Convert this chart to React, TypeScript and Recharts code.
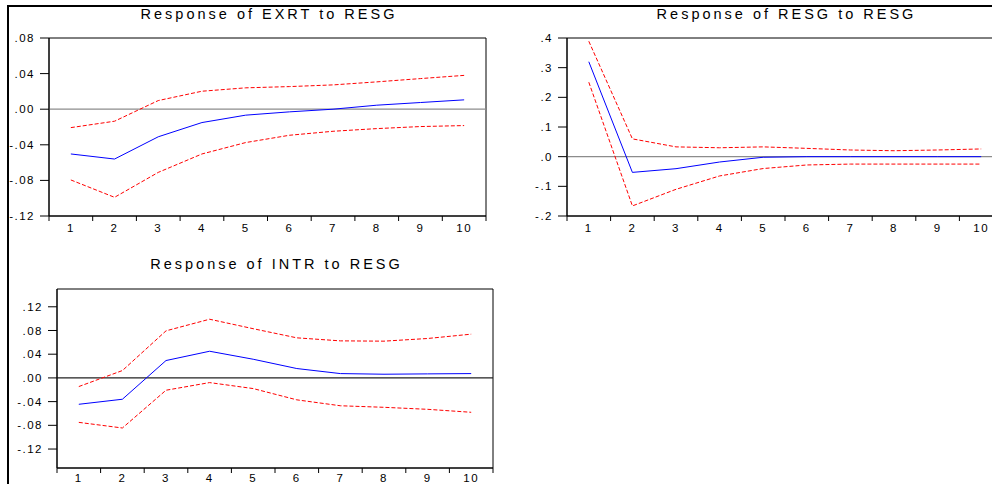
import React from "react";
import {
  LineChart,
  Line,
  XAxis,
  YAxis,
  ReferenceLine,
  ReferenceArea,
} from "recharts";

const periods = [1, 2, 3, 4, 5, 6, 7, 8, 9, 10];

const exrtResp = [-0.0503, -0.056, -0.031, -0.015, -0.0067, -0.003, 0.0, 0.0045, 0.0075, 0.0105];
const exrtUpper = [-0.0207, -0.0135, 0.0097, 0.0202, 0.024, 0.0254, 0.0273, 0.0307, 0.0344, 0.038];
const exrtLower = [-0.0795, -0.099, -0.071, -0.0503, -0.0375, -0.0293, -0.0248, -0.0218, -0.0195, -0.0184];

const resgResp = [0.32, -0.053, -0.0405, -0.018, -0.002, 0.0, 0.0, 0.0, 0.0, 0.0];
const resgUpper = [0.389, 0.06, 0.033, 0.03, 0.033, 0.028, 0.0225, 0.02, 0.0225, 0.026];
const resgLower = [0.251, -0.166, -0.11, -0.065, -0.04, -0.028, -0.025, -0.025, -0.025, -0.025];

const intrResp = [-0.0445, -0.036, 0.0293, 0.045, 0.0315, 0.0158, 0.0073, 0.0062, 0.0068, 0.0073];
const intrUpper = [-0.0146, 0.0124, 0.0794, 0.099, 0.083, 0.0676, 0.0625, 0.062, 0.0665, 0.0738];
const intrLower = [-0.075, -0.0845, -0.0208, -0.0079, -0.018, -0.037, -0.047, -0.0496, -0.053, -0.058];

const ticks2 = [-0.12, -0.08, -0.04, 0, 0.04, 0.08];
const ticks3 = [-0.12, -0.08, -0.04, 0, 0.04, 0.08, 0.12];
const ticksResg = [-0.2, -0.1, 0, 0.1, 0.2, 0.3, 0.4];

const FONT = '"Liberation Sans", Arial, sans-serif';

// label at each period, tick mark between periods (band edges)
const edges = [periods[0] - 0.5, ...periods.map((p) => p + 0.5)];
const xTicks = [...edges, ...periods].sort((a, b) => a - b);

const fmt = (digits: number) => (v: number) =>
  v.toFixed(digits).replace("0.", ".");

function PeriodTick(props: any) {
  const { x, y, payload, labelDy } = props;
  const v = payload.value;
  if (Number.isInteger(v)) {
    return (
      <text
        x={x}
        y={y + labelDy}
        textAnchor="middle"
        fontSize={11.5}
        fontFamily={FONT}
        letterSpacing={1.5}
        fill="#000"
      >
        {v}
      </text>
    );
  }
  return <line x1={x} x2={x} y1={y} y2={y + 5} stroke="#000" />;
}

function Panel({
  title,
  left,
  top,
  width,
  margin,
  resp,
  upper,
  lower,
  domain,
  ticks,
  digits,
  zeroColor,
  labelDy,
}: {
  title: string;
  left: number;
  top: number;
  width: number;
  margin: { top: number; right: number; left: number; bottom: number };
  resp: number[];
  upper: number[];
  lower: number[];
  domain: [number, number];
  ticks: number[];
  digits: number;
  zeroColor: string;
  labelDy: number;
}) {
  const data = periods.map((p, i) => ({
    period: p,
    resp: resp[i],
    upper: upper[i],
    lower: lower[i],
  }));
  const plotLeft = margin.left + 40;
  const plotWidth = width - margin.right - plotLeft;

  return (
    <div style={{ position: "absolute", left, top, width, height: 240 }}>
      <div
        style={{
          position: "absolute",
          left: plotLeft,
          width: plotWidth,
          top: 6.3,
          textAlign: "center",
          fontFamily: FONT,
          fontSize: 14.5,
          lineHeight: "16px",
          letterSpacing: 3,
          paddingLeft: 3,
          boxSizing: "border-box",
          whiteSpace: "nowrap",
          color: "#000",
        }}
      >
        {title}
      </div>
      <LineChart width={width} height={240} data={data} margin={margin}>
        <XAxis
          dataKey="period"
          type="number"
          domain={[edges[0], edges[edges.length - 1]]}
          ticks={xTicks}
          interval={0}
          height={20}
          tickLine={false}
          tickSize={0}
          tickMargin={0}
          axisLine={{ stroke: "#000" }}
          tick={(p: any) => <PeriodTick {...p} labelDy={labelDy} />}
        />
        <YAxis
          type="number"
          domain={domain}
          ticks={ticks}
          interval={0}
          allowDataOverflow
          width={40}
          tickSize={9}
          tickMargin={5}
          tickFormatter={fmt(digits)}
          axisLine={{ stroke: "#000" }}
          tickLine={{ stroke: "#000" }}
          tick={{ fontSize: 11.5, fontFamily: FONT, fill: "#000", letterSpacing: 1.5 }}
        />
        <ReferenceArea
          x1={edges[0]}
          x2={edges[edges.length - 1]}
          y1={domain[0]}
          y2={domain[1]}
          fill="none"
          stroke="#000"
          ifOverflow="visible"
        />
        <ReferenceLine y={0} stroke={zeroColor} strokeWidth={1.2} />
        <Line
          type="linear"
          dataKey="upper"
          stroke="#ff0000"
          strokeWidth={1}
          strokeDasharray="4 2"
          dot={false}
          isAnimationActive={false}
        />
        <Line
          type="linear"
          dataKey="lower"
          stroke="#ff0000"
          strokeWidth={1}
          strokeDasharray="4 2"
          dot={false}
          isAnimationActive={false}
        />
        <Line
          type="linear"
          dataKey="resp"
          stroke="#0000ff"
          strokeWidth={1}
          dot={false}
          isAnimationActive={false}
        />
      </LineChart>
    </div>
  );
}

export default function App() {
  return (
    <div
      style={{
        position: "absolute",
        left: 0,
        top: 0,
        width: 992,
        height: 484,
        overflow: "hidden",
        background: "#fff",
      }}
    >
      {/* outer frame, only top and left edges are in view */}
      <div
        style={{
          position: "absolute",
          left: 7,
          top: 5,
          width: 1000,
          height: 500,
          borderTop: "2px solid #000",
          borderLeft: "2px solid #000",
        }}
      />
      <Panel
        title="Response of EXRT to RESG"
        left={0}
        top={0}
        width={500}
        margin={{ top: 38, right: 14, left: 9, bottom: 4 }}
        resp={exrtResp}
        upper={exrtUpper}
        lower={exrtLower}
        domain={[-0.12, 0.08]}
        ticks={ticks2}
        digits={2}
        zeroColor="#8c8c8c"
        labelDy={16}
      />
      <Panel
        title="Response of RESG to RESG"
        left={519}
        top={0}
        width={494}
        margin={{ top: 38, right: 10, left: 8, bottom: 4 }}
        resp={resgResp}
        upper={resgUpper}
        lower={resgLower}
        domain={[-0.2, 0.4]}
        ticks={ticksResg}
        digits={1}
        zeroColor="#8c8c8c"
        labelDy={16}
      />
      <Panel
        title="Response of INTR to RESG"
        left={0}
        top={250}
        width={505}
        margin={{ top: 39, right: 12, left: 17, bottom: 2 }}
        resp={intrResp}
        upper={intrUpper}
        lower={intrLower}
        domain={[-0.152, 0.15]}
        ticks={ticks3}
        digits={2}
        zeroColor="#222"
        labelDy={14}
      />
    </div>
  );
}
